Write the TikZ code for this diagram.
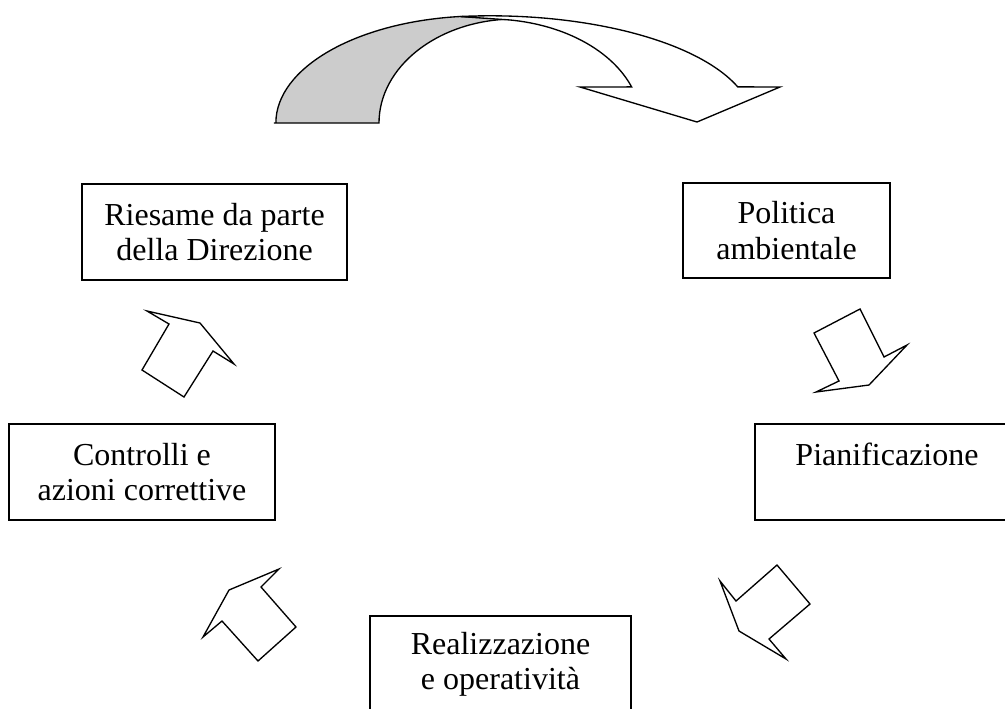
\documentclass[tikz,border=0pt]{standalone}
\usepackage{fontspec}
\setmainfont{Liberation Serif}
\begin{document}
\begin{tikzpicture}[x=0.75pt,y=-0.75pt,line width=1pt,line join=miter,
  box/.style={draw,fill=white,align=center,inner sep=0pt,
    font=\fontsize{24}{26.5}\selectfont},
  blockarrow/.style={draw,fill=white}]
\useasboundingbox (0,0) rectangle (1005,708);
\clip (0,0) rectangle (1005,708);

% curved arrow at top: dark back part
\draw[fill=black!20] (274,123) -- (379,123)
  arc[start angle=180,end angle=268,x radius=136,y radius=104]
  -- (460,16.5)
  arc[start angle=263.9,end angle=180,x radius=206,y radius=107] -- cycle;
% curved arrow: front band with head
\draw[fill=white] (460,16.5)
  arc[start angle=263.45,end angle=340.37,x radius=263,y radius=107]
  -- (780,87) -- (697,122) -- (580,87) -- (631.6,86.9)
  arc[start angle=339.7,end angle=277.9,x radius=152,y radius=104] -- cycle;

% boxes
\node[box,minimum width=198.75pt,minimum height=72pt] (riesame) at (214.5,232)
  {Riesame da parte\\della Direzione};
\node[box,minimum width=155.25pt,minimum height=71.25pt] (politica) at (786.5,230.5)
  {Politica\\ambientale};
\node[box,minimum width=198pt,minimum height=72pt] (pian) at (887,472)
  {Pianificazione\\\mbox{}};
\node[box,minimum width=199.5pt,minimum height=72pt] (contr) at (142,472)
  {Controlli e\\azioni correttive};
\node[box,minimum width=195.75pt,minimum height=72pt] (real) at (500.5,664)
  {Realizzazione\\e operatività};

% block arrows between the boxes
\draw[blockarrow] (814,333) -- (860,309) -- (884,357) -- (907,345) -- (869,385) -- (816,392) -- (839,381) -- cycle;
\draw[blockarrow] (777,565) -- (810,604) -- (769,639) -- (786,659) -- (739,631) -- (720,581) -- (736,601) -- cycle;
\draw[blockarrow] (279,569) -- (261,587) -- (296,627) -- (258,661) -- (222,621) -- (203,637) -- (229,590) -- cycle;
\draw[blockarrow] (147,311) -- (200,323) -- (234,364) -- (213,351) -- (184,397) -- (142,370) -- (169,324) -- cycle;
\end{tikzpicture}
\end{document}
